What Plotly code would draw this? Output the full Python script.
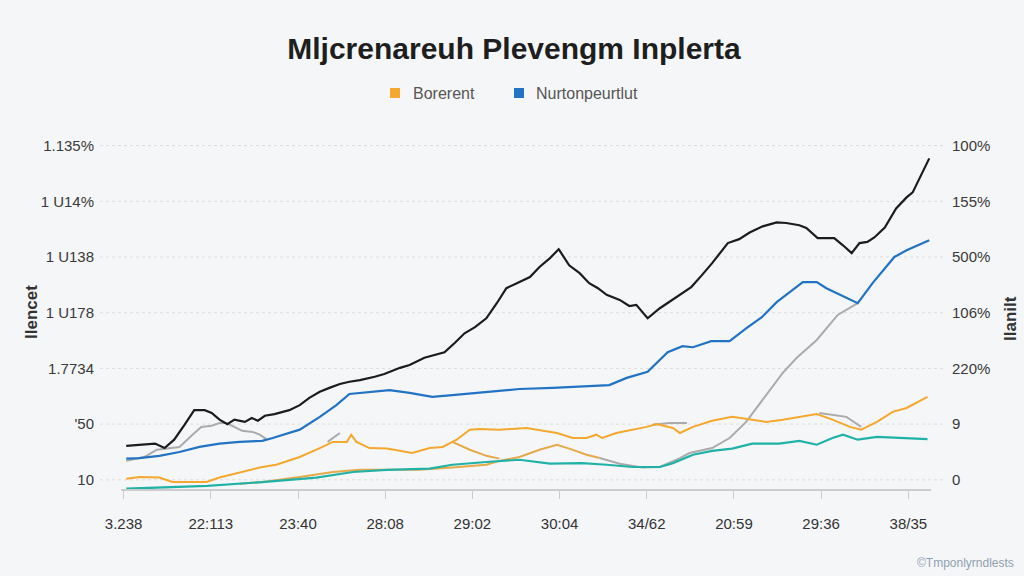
import plotly.graph_objects as go

# ---------------- data ----------------
x_tick_vals = [0, 10, 20, 30, 40, 50, 60, 70, 80, 90]
x_tick_text = ["3.238", "22:113", "23:40", "28:08", "29:02", "30:04", "34/62", "20:59", "29:36", "38/35"]
y_tick_vals = [0, 10, 20, 30, 40, 50, 60]
y_left_text = ["10", "'50", "1.7734", "1 U178", "1 U138", "1 U14%", "1.135%"]
y_right_text = ["0", "9", "220%", "106%", "500%", "155%", "100%"]

black_x = [0.3, 2.4, 3.6, 4.7, 5.8, 7.0, 8.1, 9.3, 10.1, 11.0, 11.9, 12.7, 13.9, 14.7, 15.4, 16.2, 17.3, 19.0,
           20.2, 21.3, 22.5, 23.6, 24.8, 25.9, 27.1, 28.8, 29.9, 31.7, 32.8, 34.5, 35.7, 36.8, 38.0, 39.1, 40.3,
           41.6, 42.8, 43.9, 45.1, 46.6, 47.7, 48.9, 49.9, 51.1, 52.3, 53.4, 54.4, 55.4, 56.9, 58.0, 58.8, 60.1,
           61.5, 63.4, 65.1, 66.3, 67.5, 69.3, 70.6, 71.8, 73.3, 74.9, 76.0, 77.5, 78.3, 79.6, 81.5, 82.5, 83.5,
           84.4, 85.3, 86.1, 87.3, 88.6, 89.8, 90.5, 92.4]
black_y = [6.1, 6.3, 6.5, 5.7, 7.2, 9.9, 12.5, 12.5, 12.0, 10.8, 10.0, 10.8, 10.4, 11.1, 10.6, 11.5, 11.8, 12.5,
           13.4, 14.7, 15.8, 16.5, 17.2, 17.6, 17.9, 18.5, 19.0, 20.1, 20.6, 21.9, 22.4, 22.9, 24.6, 26.3, 27.4,
           29.0, 31.7, 34.4, 35.3, 36.4, 38.2, 39.8, 41.4, 38.5, 37.1, 35.3, 34.4, 33.2, 32.3, 31.2, 31.4, 29.0,
           30.8, 32.8, 34.6, 36.7, 38.9, 42.5, 43.2, 44.4, 45.5, 46.2, 46.1, 45.7, 45.2, 43.4, 43.4, 42.1, 40.7,
           42.5, 42.7, 43.5, 45.3, 48.7, 50.7, 51.6, 57.7]

blue_x = [0.3, 1.8, 4.1, 6.4, 8.7, 11.0, 13.3, 15.9, 17.1, 20.2, 22.5, 24.4, 25.9, 27.1, 30.5, 32.8, 35.4, 37.7,
          40.8, 45.4, 49.2, 52.0, 53.4, 55.7, 57.7, 60.1, 62.4, 64.1, 65.3, 67.4, 69.5, 71.4, 73.2, 74.9, 76.4,
          77.9, 79.5, 80.6, 84.2, 85.9, 88.4, 89.8, 92.4]
blue_y = [3.8, 3.9, 4.3, 5.0, 5.9, 6.5, 6.8, 7.0, 7.5, 9.0, 11.3, 13.4, 15.4, 15.6, 16.1, 15.6, 14.9, 15.2,
          15.6, 16.3, 16.5, 16.7, 16.8, 17.0, 18.3, 19.4, 22.9, 24.0, 23.8, 24.9, 24.9, 27.2, 29.2, 31.9, 33.7,
          35.5, 35.5, 34.4, 31.7, 35.3, 40.0, 41.2, 43.0]

gray_x = [0.3, 2.4, 3.8, 5.3, 6.4, 7.9, 8.9, 10.1, 11.0, 11.8, 12.7, 13.6, 14.8, 15.6, 16.4, None,
          23.4, 24.8, None,
          60.7, 62.6, 64.6, None,
          79.8, 82.9, 84.6, None,
          54.6, 56.9, 59.5, 61.5, 63.8, 64.9, 67.5, 69.5, 71.4, 73.3, 75.6, 77.2, 79.5, 81.9, 84.2]
gray_y = [3.4, 4.1, 5.4, 5.7, 5.9, 8.1, 9.5, 9.7, 10.2, 10.2, 9.5, 8.8, 8.6, 8.1, 7.3, None,
          6.8, 8.4, None,
          9.9, 10.2, 10.2, None,
          12.0, 11.3, 9.5, None,
          3.9, 2.9, 2.2, 2.3, 3.9, 4.8, 5.7, 7.5, 10.4, 14.3, 19.2, 21.9, 25.1, 29.6, 31.7]

orange_x = [0.3, 1.8, 4.1, 5.6, 7.2, 9.5, 11.0, 13.3, 15.6, 17.5, 20.2, 22.5, 24.0, 25.6, 26.1, 26.7, 28.2,
            30.2, 33.1, 35.1, 36.6, 37.7, 38.2, 39.7, 40.8, 43.1, 46.2, 49.7, 51.5, 53.1, 54.2, 54.9, 56.5,
            60.0, 61.1, 63.0, 63.8, 65.3, 67.5, 69.8, 71.8, 73.7, 75.6, 77.5, 79.5, 81.3, 83.3, 84.6, 86.4,
            88.2, 89.8, 92.2]
orange_y = [0.2, 0.5, 0.4, -0.4, -0.4, -0.4, 0.4, 1.3, 2.2, 2.7, 4.1, 5.7, 6.8, 6.8, 8.1, 6.8, 5.7,
            5.6, 4.8, 5.7, 5.9, 6.8, 7.2, 9.0, 9.1, 9.0, 9.3, 8.4, 7.5, 7.5, 8.1, 7.5, 8.4,
            9.5, 10.0, 9.3, 8.4, 9.5, 10.6, 11.3, 10.8, 10.4, 10.8, 11.3, 11.8, 10.8, 9.5, 9.0, 10.4,
            12.2, 12.9, 14.9]

tan_x = [13.3, 15.9, 20.2, 24.0, 27.1, 33.9, 37.7, 41.6, 43.1, 45.4, 47.7, 49.7, 51.1, 53.1, 54.6, None,
         37.7, 39.7, 41.6, 43.1]
tan_y = [-0.7, -0.4, 0.5, 1.4, 1.8, 1.8, 2.2, 2.7, 3.4, 4.1, 5.4, 6.3, 5.6, 4.5, 3.9, None,
         6.8, 5.4, 4.3, 3.8]

teal_x = [0.3, 5.3, 9.6, 15.9, 22.1, 26.3, 30.2, 35.1, 37.7, 41.6, 45.4, 48.9, 52.6, 55.4, 58.4, 61.5, 63.0,
          65.3, 67.5, 69.8, 72.1, 75.2, 77.5, 79.5, 81.3, 82.5, 84.2, 86.4, 89.0, 92.2]
teal_y = [-1.6, -1.4, -1.1, -0.4, 0.4, 1.4, 1.8, 2.0, 2.7, 3.2, 3.6, 2.9, 3.0, 2.7, 2.3, 2.3, 3.0,
          4.5, 5.2, 5.6, 6.5, 6.5, 7.0, 6.3, 7.5, 8.1, 7.2, 7.7, 7.5, 7.3]

legend_names = ["Borerent", "Nurtonpeurtlut"]
title_text = "Mljcrenareuh Plevengm Inplerta"
left_title = "Ilencet"
right_title = "Ilanilt"
watermark = "©Tmponlyrndlests"

# ---------------- layout helpers ----------------
W, H = 1024, 576
ML, MR, MT, MB = 121, 93, 140, 87
PW, PH = W - ML - MR, H - MT - MB


def px_x(p):
    return (p - ML) / PW


def px_y(p):
    return (H - MB - p) / PH


BG = "#f5f6f8"
FONT = "Liberation Sans"

fig = go.Figure()

fig.add_trace(go.Scatter(x=gray_x, y=gray_y, mode="lines", line=dict(color="#ababab", width=2),
                         showlegend=False, hoverinfo="skip"))
fig.add_trace(go.Scatter(x=tan_x, y=tan_y, mode="lines", line=dict(color="#e6a94a", width=2),
                         showlegend=False, hoverinfo="skip"))
fig.add_trace(go.Scatter(x=teal_x, y=teal_y, mode="lines", line=dict(color="#20b2a6", width=2.2),
                         showlegend=False, hoverinfo="skip", yaxis="y2"))
fig.add_trace(go.Scatter(x=orange_x, y=orange_y, mode="lines", line=dict(color="#f4a82e", width=2),
                         showlegend=False, hoverinfo="skip"))
fig.add_trace(go.Scatter(x=blue_x, y=blue_y, mode="lines", line=dict(color="#2273c3", width=2.2),
                         showlegend=False, hoverinfo="skip"))
fig.add_trace(go.Scatter(x=black_x, y=black_y, mode="lines", line=dict(color="#1c1c1c", width=2.2),
                         showlegend=False, hoverinfo="skip"))

yr = [-1.65, 61.0]

shapes = []
for v in y_tick_vals:
    shapes.append(dict(type="line", xref="paper", yref="y", x0=px_x(100), x1=px_x(944), y0=v, y1=v,
                       line=dict(color="#dddddd", width=1, dash="dot"), layer="below"))

# legend squares
for cx, col in [(395, "#f4a82e"), (519, "#2273c3")]:
    shapes.append(dict(type="rect", xref="paper", yref="paper",
                       x0=px_x(cx - 5), x1=px_x(cx + 5), y0=px_y(98), y1=px_y(88),
                       fillcolor=col, line=dict(width=0)))

annotations = [
    dict(text=legend_names[0], x=px_x(411), y=px_y(93), xref="paper", yref="paper", xanchor="left",
         yanchor="middle", showarrow=False, font=dict(family=FONT, size=16, color="#555555")),
    dict(text=legend_names[1], x=px_x(534), y=px_y(93), xref="paper", yref="paper", xanchor="left",
         yanchor="middle", showarrow=False, font=dict(family=FONT, size=16, color="#555555")),
    dict(text=left_title, x=px_x(31), y=px_y(312), xref="paper", yref="paper", xanchor="center",
         yanchor="middle", textangle=-90, showarrow=False,
         font=dict(family=FONT, size=17, color="#333333", weight="bold")),
    dict(text=right_title, x=px_x(1010), y=px_y(318), xref="paper", yref="paper", xanchor="center",
         yanchor="middle", textangle=-90, showarrow=False,
         font=dict(family=FONT, size=17, color="#333333", weight="bold")),
    dict(text=watermark, x=px_x(1016), y=px_y(563), xref="paper", yref="paper", xanchor="right",
         yanchor="middle", showarrow=False, font=dict(family=FONT, size=12, color="#8fa0b0")),
]

fig.update_layout(
    width=W, height=H,
    margin=dict(l=ML, r=MR, t=MT, b=MB),
    paper_bgcolor=BG, plot_bgcolor=BG,
    title=dict(text=title_text, x=514 / W, xref="container", y=1 - 48 / H, yref="container",
               xanchor="center", yanchor="middle",
               font=dict(family=FONT, size=30, color="#1e1e1e", weight="bold")),
    xaxis=dict(range=[-0.3, 92.6], tickvals=x_tick_vals, ticktext=x_tick_text, showgrid=False,
               zeroline=False, showline=True, linecolor="#cccccc", linewidth=1.5,
               ticks="outside", ticklen=8, tickcolor="#cccccc", ticklabelstandoff=12,
               tickfont=dict(family=FONT, size=15, color="#333333")),
    yaxis=dict(range=yr, tickvals=y_tick_vals, ticktext=y_left_text, showgrid=False, zeroline=False,
               showline=False, ticks="", ticklabelstandoff=26,
               tickfont=dict(family=FONT, size=15, color="#3a3a3a")),
    yaxis2=dict(range=yr, tickvals=y_tick_vals, ticktext=y_right_text, overlaying="y", side="right",
                showgrid=False, zeroline=False, showline=False, ticks="", ticklabelstandoff=20,
                tickfont=dict(family=FONT, size=15, color="#3a3a3a")),
    shapes=shapes,
    annotations=annotations,
    showlegend=False,
)

fig.write_html("out.html", config={"displayModeBar": False},
               post_script="document.body.style.margin='0';")
